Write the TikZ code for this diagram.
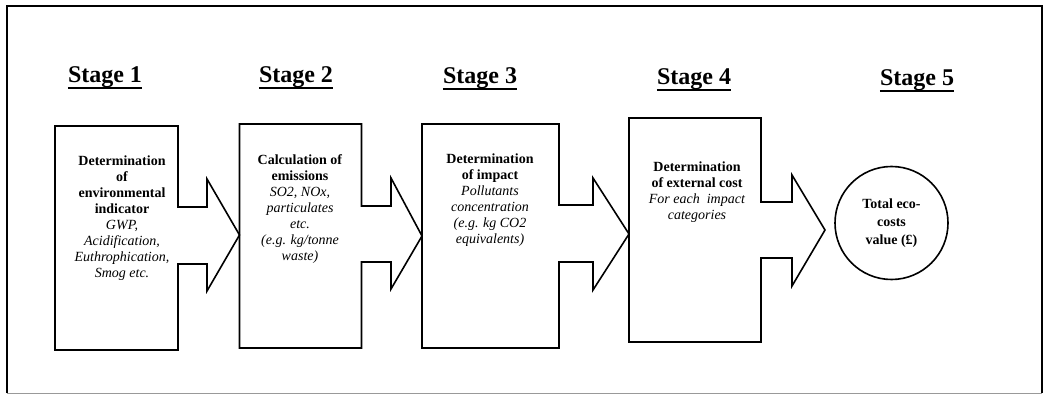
\documentclass[tikz,border=0pt]{standalone}
\usepackage{fontspec}
\setmainfont{Liberation Serif}
\usetikzlibrary{calc}
\begin{document}
\begin{tikzpicture}[x=1pt,y=-1pt,
  outline/.style={line width=1.6pt, line join=miter},
  stagebox/.style={inner sep=0pt, outer sep=0pt, minimum height=224pt},
  stagelabel/.style={inner sep=0pt, anchor=base, font=\fontsize{24}{28}\selectfont\bfseries},
  underl/.style={line width=1.5pt},
  bodytext/.style={inner sep=0pt, anchor=north, align=center, font=\fontsize{14}{16}\selectfont},
  framebold/.style={line width=1.6pt},
  framethin/.style={line width=0.8pt, black!40}
]
\useasboundingbox (0,0) rectangle (1049,395);

% outer frame
\draw[framebold] (7,393) -- (7,6) -- (1042,6) -- (1042,393);
\draw[framethin] (7,393) -- (1042,393);

% stage headings
\node[stagelabel] (s1) at (105,83) {Stage 1};
\node[stagelabel] (s2) at (296,83) {Stage 2};
\node[stagelabel] (s3) at (480,84) {Stage 3};
\node[stagelabel] (s4) at (694,85) {Stage 4};
\node[stagelabel] (s5) at (917,86) {Stage 5};
\foreach \s in {s1,s2,s3,s4,s5}
  \draw[underl] ($(\s.base west)+(0,5)$) -- ($(\s.base east)+(0,5)$);

% stage boxes (outlines drawn together with their arrows below)
\node[stagebox, minimum width=123pt] (b1) at (116.5,238) {};
\node[stagebox, minimum width=122pt] (b2) at (300.5,236) {};
\node[stagebox, minimum width=137pt] (b3) at (490.5,236) {};
\node[stagebox, minimum width=132pt] (b4) at (695,230) {};
\node[draw, circle, line width=1.6pt, minimum size=113pt, inner sep=0pt,
      align=center, font=\fontsize{14}{18}\selectfont\bfseries] (c5) at (891.5,223)
  {Total eco-\\costs\\value (£)};

% box outlines with block arrows into the next stage
\draw[outline] (b1.north west) -- (b1.north east) -- (b1.east |- 0,207) -- (207,207)
  -- (207,179) -- (b2.west |- 0,235) -- (207,291) -- (207,264) -- (b1.east |- 0,264)
  -- (b1.south east) -- (b1.south west) -- cycle;
\draw[outline] (b2.north west) -- (b2.north east) -- (b2.east |- 0,206) -- (391,206)
  -- (391,178) -- (b3.west |- 0,236) -- (391,289) -- (391,262) -- (b2.east |- 0,262)
  -- (b2.south east) -- (b2.south west) -- cycle;
\draw[outline] (b3.north west) -- (b3.north east) -- (b3.east |- 0,205) -- (593,205)
  -- (593,178) -- (b4.west |- 0,234) -- (593,290) -- (593,262) -- (b3.east |- 0,262)
  -- (b3.south east) -- (b3.south west) -- cycle;
\coordinate (a4tip) at (825,230);
\draw[outline] (b4.north west) -- (b4.north east) -- (b4.east |- 0,202) -- (792,202)
  -- (792,175) -- (a4tip) -- (792,286) -- (792,258) -- (b4.east |- 0,258)
  -- (b4.south east) -- (b4.south west) -- cycle;

% box texts
\node[bodytext] (t1) at (122,156) {\textbf{Determination}\\\textbf{of}\\\textbf{environmental}\\\textbf{indicator}\\\textit{GWP,}\\\textit{Acidification,}\\\textit{Euthrophication,}\\\textit{Smog etc.}};
\node[bodytext] (t2) at (300,154) {\textbf{Calculation of}\\\textbf{emissions}\\\textit{SO2, NOx,}\\\textit{particulates}\\\textit{etc.}\\\textit{(e.g. kg/tonne}\\\textit{waste)}};
\node[bodytext] (t3) at (490,154) {\textbf{Determination}\\\textbf{of impact}\\\textit{Pollutants}\\\textit{concentration}\\\textit{(e.g. kg CO2}\\\textit{equivalents)}};
\node[bodytext] (t4) at (697,162) {\textbf{Determination}\\\textbf{of external cost}\\\textit{For each\ \ impact}\\\textit{categories}};
\end{tikzpicture}
\end{document}
